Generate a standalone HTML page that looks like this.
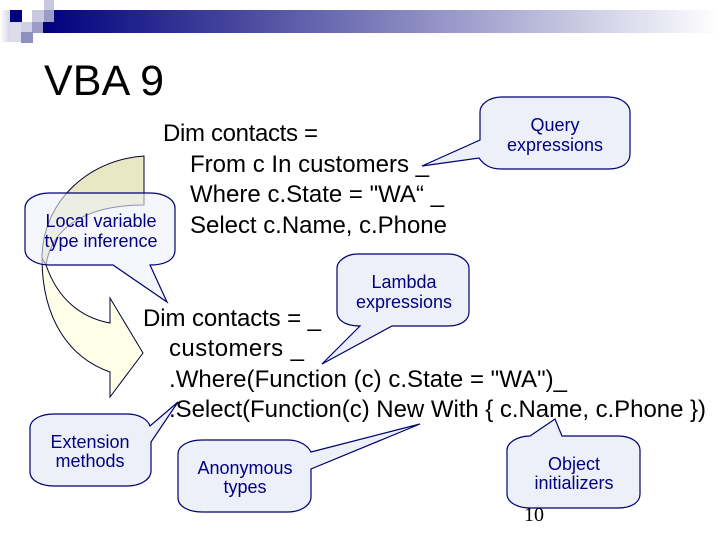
<!DOCTYPE html>
<html><head><meta charset="utf-8"><style>
html,body{margin:0;padding:0;background:#fff}
svg{display:block}
text{font-family:"Liberation Sans",sans-serif}
.c{font-size:24px;fill:#000}
.n{font-size:18px;fill:#000080;text-anchor:middle}
.b{fill:#eef0f9;stroke:#000070;stroke-width:1.2}
</style></head><body>
<svg width="720" height="540" viewBox="0 0 720 540" xmlns="http://www.w3.org/2000/svg">
<defs>
<linearGradient id="g" x1="0" x2="1" y1="0" y2="0">
<stop offset="0" stop-color="#000080"/><stop offset="0.3" stop-color="#4a4aa0"/><stop offset="0.65" stop-color="#a5a5d0"/><stop offset="1" stop-color="#ffffff"/></linearGradient>
<linearGradient id="l" x1="0" x2="1" y1="0" y2="0">
<stop offset="0" stop-color="#ffffff"/><stop offset="1" stop-color="#d4d4e8"/></linearGradient>
</defs>
<rect x="43" y="10" width="677" height="23" fill="url(#g)"/>
<rect x="0" y="10" width="10" height="32" fill="url(#l)"/>
<rect x="10" y="22" width="11" height="20" fill="#dcdcec"/>
<rect x="10" y="10" width="12" height="12" fill="#000080"/>
<rect x="32" y="10" width="12" height="12" fill="#c8c8e0"/>
<rect x="44" y="10" width="10" height="12" fill="#9c9cc8"/>
<rect x="44" y="0" width="10" height="10" fill="#c8c8e2"/>
<rect x="21" y="22" width="11" height="10" fill="#d0d0e6"/>
<rect x="32" y="22" width="11" height="11" fill="#9c9cca"/>
<rect x="21" y="32" width="12" height="11" fill="#9090c0"/>

<text x="44" y="95" font-size="43" fill="#000" textLength="120" lengthAdjust="spacing">VBA 9</text>

<path d="M46 265 C58 300 82 318 110 323 L110 298 L143 353 L110 397 L110 372 C70 358 42 320 42 258 Z" fill="#ffffe8" stroke="#000030" stroke-width="1"/>
<path d="M144 156 C85 160 42 205 42 258 L46 265 C52 225 90 205 144 205 Z" fill="#e8e8c4" stroke="#000030" stroke-width="1"/>

<path class="b" style="fill-opacity:.6" d="M50 193 H150 C165 193 175 200 175 208 V250 C175 260 165 265 150 265 L167 302 L113 265 H50 C35 265 25 258 25 250 V208 C25 200 35 193 50 193 Z"/>
<path class="b" d="M502 97 H608 C622 97 630 105 630 112 V154 C630 163 622 169 608 169 H502 C490 169 484 165 479 158 L422 166 L480 140 V112 C480 105 488 97 502 97 Z"/>
<path class="b" d="M358 254 H448 C461 254 469 262 469 268 V312 C469 320 461 326 448 326 H392 L322 364 L360 326 C345 326 337 320 337 312 V268 C337 262 345 254 358 254 Z"/>
<path class="b" d="M54 414 H127 C140 414 148 420 150 426 L178 402 L151 442 V472 C150 480 140 486 127 486 H54 C40 486 30 480 30 472 V428 C30 420 40 414 54 414 Z"/>
<path class="b" d="M202 440 H288 C300 440 308 446 311 452 L420 424 L311 469 V498 C310 506 300 512 288 512 H202 C188 512 178 506 178 498 V454 C178 446 188 440 202 440 Z"/>
<path class="b" d="M530 436 L555 419 L562 436 H618 C632 436 640 443 640 450 V494 C640 502 632 508 618 508 H530 C517 508 507 502 507 494 V450 C507 443 517 436 530 436 Z"/>

<text class="c" x="163" y="141" textLength="155" lengthAdjust="spacing">Dim contacts =</text>
<text class="c" x="190" y="172" textLength="239" lengthAdjust="spacing">From c In customers _</text>
<text class="c" x="190" y="202" textLength="254" lengthAdjust="spacing">Where c.State = "WA“ _</text>
<text class="c" x="190" y="233" textLength="257" lengthAdjust="spacing">Select c.Name, c.Phone</text>

<text class="c" x="143" y="326" textLength="178" lengthAdjust="spacing">Dim contacts = _</text>
<text class="c" x="169" y="356" textLength="135" lengthAdjust="spacing">customers _</text>
<text class="c" x="169" y="387" textLength="398" lengthAdjust="spacing">.Where(Function (c) c.State = "WA")_</text>
<text class="c" x="169" y="417" textLength="537" lengthAdjust="spacing">.Select(Function(c) New With { c.Name, c.Phone })</text>

<text class="n" x="555" y="131">Query</text>
<text class="n" x="555" y="151">expressions</text>
<text class="n" x="101" y="227">Local variable</text>
<text class="n" x="101" y="247">type inference</text>
<text class="n" x="404" y="288">Lambda</text>
<text class="n" x="404" y="308">expressions</text>
<text class="n" x="90" y="448">Extension</text>
<text class="n" x="90" y="467">methods</text>
<text class="n" x="245" y="474">Anonymous</text>
<text class="n" x="245" y="493">types</text>
<text class="n" x="574" y="470">Object</text>
<text class="n" x="574" y="489">initializers</text>

<text x="524" y="521" font-size="20" fill="#000" style="font-family:'Liberation Serif',serif">10</text>
</svg>
</body></html>
